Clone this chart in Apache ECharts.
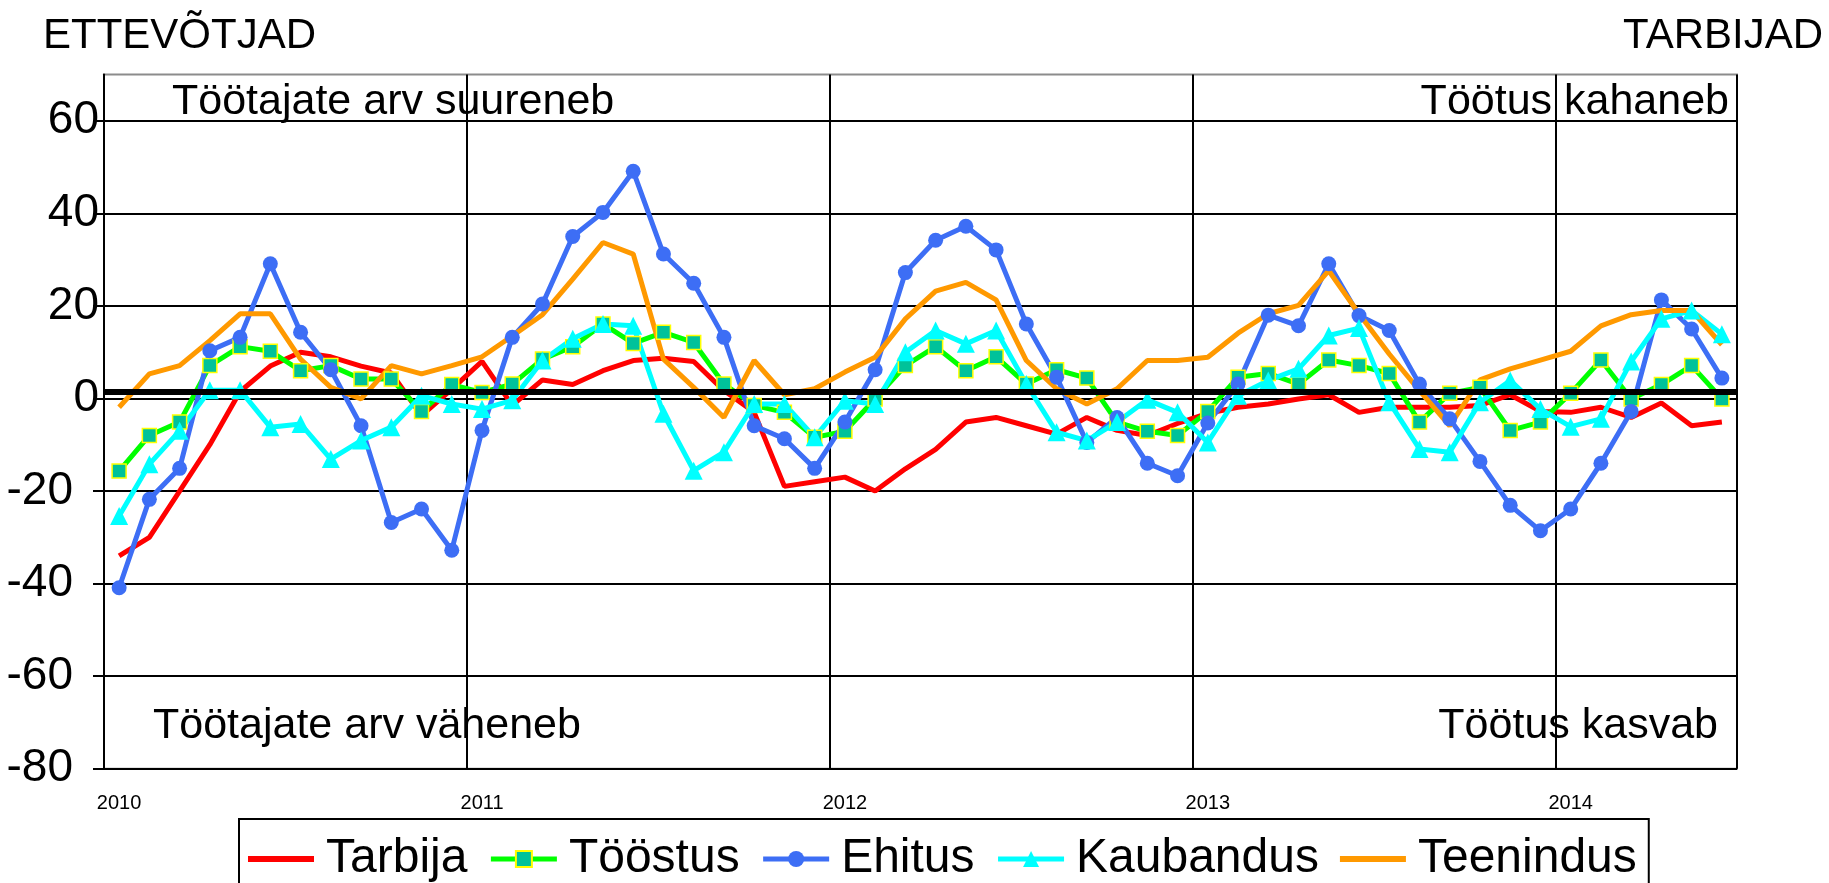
<!DOCTYPE html>
<html>
<head>
<meta charset="utf-8">
<script src="https://cdn.jsdelivr.net/npm/echarts@6.0.0/dist/echarts.min.js"></script>
<style>
  html, body { margin: 0; padding: 0; background: #fff; }
  #main { width: 1829px; height: 883px; }
</style>
</head>
<body>
<div id="main"></div>
<script>
// kuud 2010 jaanuar ... 2014 juuni
const years = ['2010', '2011', '2012', '2013', '2014']
const monthCodes = ['01', '02', '03', '04', '05', '06', '07', '08', '09', '10', '11', '12']
const months = []
years.forEach(function (y, k) {
  const n = k === years.length - 1 ? 6 : 12
  for (let m = 0; m < n; m++) months.push(y + '-' + monthCodes[m])
})

const tarbija = [-34, -30, -20, -10, 1.5, 7, 10, 9, 7, 5.5, -3.7, 2, 8, -1.5, 4, 3, 6, 8.2, 8.7, 8, 1.7, -3, -19, -18, -17, -20, -15.2, -11, -5.1, -4.1, -5.9, -7.7, -4.1, -6.9, -8, -5.4, -3.2, -1.9, -1.2, -0.1, 0.8, -3, -1.9, -1.9, -1.9, -1.5, 0.8, -2.8, -3, -1.9, -4.1, -1, -5.9, -5.1]
const toostus = [-15.7, -8, -5.1, 7.1, 11.2, 10.2, 6, 7.1, 4.2, 4.2, -2.8, 3, 1.3, 3.1, 8.5, 11.2, 16.1, 11.9, 14.3, 12.1, 3.1, -1.5, -3, -8.4, -7.1, -0.1, 7.1, 11.2, 6, 9, 3.1, 6.2, 4.4, -5.1, -7.1, -8, -2.8, 4.6, 5.4, 3.1, 8.3, 7.1, 5.4, -5.1, 1.1, 2.4, -6.9, -5.1, 1.1, 8.3, -0.1, 3, 7.1, -0.1]
const ehitus = [-40.9, -21.8, -15.1, 10.3, 13.2, 29.1, 14.3, 6.2, -5.9, -26.8, -23.9, -32.8, -6.9, 13.2, 20.4, 35, 40.2, 49.1, 31.2, 24.9, 13.2, -5.9, -8.7, -15.1, -5.1, 6.2, 27.2, 34.2, 37.2, 32.1, 16.1, 4.6, -9.5, -4.1, -14, -16.7, -5.3, 3.1, 18, 15.7, 29.1, 17.9, 14.7, 3.1, -4.4, -13.6, -23.1, -28.6, -23.9, -14, -2.8, 21.3, 15, 4.4]
const kaubandus = [-25.4, -14.2, -7, 1.8, 1.8, -6.2, -5.5, -13.1, -9.1, -6.2, 0.6, -1.2, -2.3, -0.4, 8.2, 12.9, 16.1, 15.7, -3.3, -15.6, -11.6, -1.2, -1.2, -8.4, -0.5, -1.2, 10, 14.7, 11.8, 14.7, 3.1, -7.3, -9.1, -5.1, -0.3, -3, -9.5, 0.6, 3.9, 6.4, 13.6, 15.2, -0.8, -10.9, -11.6, -0.8, 3.9, -2.3, -6.1, -4.4, 8, 17.2, 19, 13.9]
const teenindus = [-1.9, 5.3, 7.1, 12.5, 18.3, 18.3, 8.5, 2.4, -0.1, 7.1, 5.3, 7.1, 9, 13.5, 18.1, 25.8, 33.7, 31.2, 8.5, 2.4, -4.1, 8.2, 0.8, 2.1, 5.7, 8.9, 17.2, 23.2, 25.1, 21.3, 8.2, 2.1, -1.2, 2.1, 8.2, 8.2, 8.9, 14.1, 18.3, 20.1, 27.6, 18.3, 9.6, 1.7, -5.9, 4, 6.4, 8.3, 10.2, 15.7, 18.1, 19, 19, 11.6]
const keskmine = 1.5

const font = 'Liberation Sans, Arial, sans-serif'
const lineIcon = 'path://M0 0H66V6H0Z'

let myChart = echarts.init(document.getElementById('main'))

let option = {
  animation: false,
  backgroundColor: '#fff',
  grid: {
    left: 104,
    right: 92,
    top: 74.5,
    bottom: 114.3,
    show: true,
    borderColor: '#8c8c8c',
    borderWidth: 2,
  },
  legend: {
    data: [
      { name: 'Tarbija', icon: lineIcon },
      'Tööstus',
      'Ehitus',
      'Kaubandus',
      { name: 'Teenindus', icon: lineIcon },
    ],
    left: 239,
    top: 819,
    padding: [16, 12, 24, 9],
    itemGap: 21,
    itemWidth: 66,
    itemHeight: 20,
    borderColor: '#000',
    borderWidth: 2,
    lineStyle: { width: 5 },
    textStyle: { fontSize: 48, color: '#000', fontFamily: font, padding: [0, 0, 0, 7] },
  },
  xAxis: {
    type: 'category',
    boundaryGap: true,
    data: months,
    axisLine: { show: false },
    axisTick: { show: false },
    axisLabel: {
      interval: function (i) { return i % 12 === 0 },
      formatter: function (v) { return v.slice(0, 4) },
      fontSize: 20,
      color: '#000',
      fontFamily: font,
      margin: 25,
    },
    splitLine: {
      show: true,
      interval: function (i) { return i % 12 === 0 },
      lineStyle: { color: '#000', width: 2 },
    },
  },
  yAxis: {
    type: 'value',
    min: -80,
    max: 70,
    interval: 20,
    axisLine: { show: true, lineStyle: { color: '#000', width: 2 } },
    axisTick: { show: true, length: 11, lineStyle: { color: '#000', width: 2 } },
    axisLabel: {
      fontSize: 46,
      color: '#000',
      fontFamily: font,
      margin: 5,
      showMaxLabel: false,
      formatter: function (v) {
        if (v === 70) return ''
        return v < 0 ? '{neg|' + v + '}' : String(v)
      },
      rich: {
        neg: { fontSize: 46, fontFamily: font, color: '#000', padding: [0, 26, 0, 0] },
      },
    },
    splitLine: { show: true, showMaxLine: false, lineStyle: { color: '#000', width: 2 } },
  },
  graphic: [
    { type: 'text', left: 43, top: 15, style: { text: 'ETTEVÕTJAD', font: '42px ' + font, fill: '#000' } },
    { type: 'text', right: 6, top: 15, style: { text: 'TARBIJAD', font: '42px ' + font, fill: '#000' } },
    { type: 'text', left: 172, top: 81, style: { text: 'Töötajate arv suureneb', font: '43px ' + font, fill: '#000' } },
    { type: 'text', right: 100, top: 81, style: { text: 'Töötus kahaneb', font: '43px ' + font, fill: '#000' } },
    { type: 'text', left: 153, top: 705, style: { text: 'Töötajate arv väheneb', font: '43px ' + font, fill: '#000' } },
    { type: 'text', right: 111, top: 705, style: { text: 'Töötus kasvab', font: '43px ' + font, fill: '#000' } },
  ],
  series: [
    {
      name: 'Tarbija',
      type: 'line',
      data: tarbija,
      symbol: 'none',
      lineStyle: { color: '#ff0000', width: 5 },
      itemStyle: { color: '#ff0000' },
    },
    {
      name: 'Tööstus',
      type: 'line',
      data: toostus,
      symbol: 'rect',
      symbolSize: 14,
      lineStyle: { color: '#00ff00', width: 5 },
      itemStyle: { color: '#00c29a', borderColor: '#ffff00', borderWidth: 1.5 },
    },
    {
      name: 'Ehitus',
      type: 'line',
      data: ehitus,
      symbol: 'circle',
      symbolSize: 15,
      lineStyle: { color: '#3d6ef5', width: 5 },
      itemStyle: { color: '#3d6ef5' },
    },
    {
      name: 'Kaubandus',
      type: 'line',
      data: kaubandus,
      symbol: 'triangle',
      symbolSize: 18,
      lineStyle: { color: '#00ffff', width: 5 },
      itemStyle: { color: '#00ffff' },
    },
    {
      name: 'Teenindus',
      type: 'line',
      data: teenindus,
      symbol: 'none',
      lineStyle: { color: '#ff9900', width: 5 },
      itemStyle: { color: '#ff9900' },
      markLine: {
        silent: true,
        symbol: 'none',
        label: { show: false },
        lineStyle: { color: '#000', width: 6, type: 'solid' },
        data: [{ yAxis: keskmine }],
      },
    },
  ],
}

myChart.setOption(option)
</script>
</body>
</html>
